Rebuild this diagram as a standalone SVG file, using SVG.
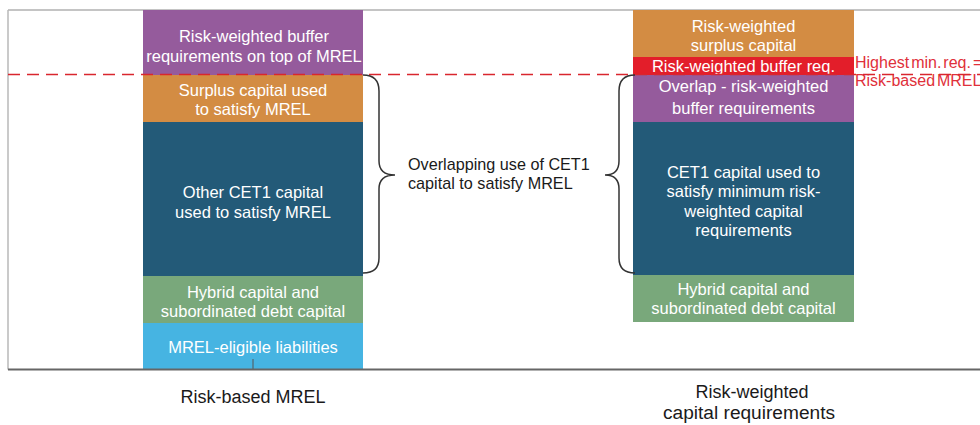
<svg xmlns="http://www.w3.org/2000/svg" width="980" height="425" viewBox="0 0 980 425">
<style>
  text { font-family: "Liberation Sans", Arial, sans-serif; font-size: 16px; }
  .w { fill: #ffffff; text-anchor: middle; font-size: 16.5px; }
  .k { fill: #1a1a1a; font-size: 16.2px; }
  .lbl { fill: #1a1a1a; text-anchor: middle; font-size: 18px; }
  .red { fill: #e0303a; word-spacing: -2.5px; }
  .purple { fill: #955b9c; }
  .orange { fill: #d38c43; }
  .redbox { fill: #e31e2a; }
  .navy { fill: #235a78; }
  .green { fill: #79a87b; }
  .lblue { fill: #46b4e2; }
  .brace { fill: none; stroke: #333333; stroke-width: 1.5; }
</style>
<rect width="980" height="425" fill="#ffffff"/>
<g id="frame">
  <line x1="8" y1="10" x2="980" y2="10" stroke="#b0b0b0" stroke-width="1.5"/>
  <line x1="8" y1="10" x2="8" y2="369.5" stroke="#b8b8b8" stroke-width="1.5"/>
</g>
<g id="left-buffer">
  <rect class="purple" x="143" y="10" width="220" height="65"/>
  <text class="w" x="254" y="42">Risk-weighted buffer</text>
  <text class="w" x="254" y="62">requirements on top of MREL</text>
</g>
<g id="left-surplus">
  <rect class="orange" x="143" y="75" width="220" height="47"/>
  <text class="w" x="253" y="96">Surplus capital used</text>
  <text class="w" x="253" y="115">to satisfy MREL</text>
</g>
<g id="left-cet1">
  <rect class="navy" x="143" y="122" width="220" height="154"/>
  <text class="w" x="253" y="198">Other CET1 capital</text>
  <text class="w" x="253" y="218">used to satisfy MREL</text>
</g>
<g id="left-hybrid">
  <rect class="green" x="143" y="276" width="220" height="47"/>
  <text class="w" x="253" y="298">Hybrid capital and</text>
  <text class="w" x="253" y="317">subordinated debt capital</text>
</g>
<g id="left-liabilities">
  <rect class="lblue" x="143" y="323" width="220" height="46"/>
  <text class="w" x="253" y="353">MREL-eligible liabilities</text>
  <line x1="253" y1="359" x2="253" y2="369" stroke="#555555" stroke-width="1"/>
</g>
<g id="right-surplus">
  <rect class="orange" x="633" y="10" width="221" height="47"/>
  <text class="w" x="743.5" y="32">Risk-weighted</text>
  <text class="w" x="743.5" y="51">surplus capital</text>
</g>
<g id="right-buffer">
  <rect class="redbox" x="633" y="57" width="221" height="18"/>
  <text class="w" x="743.5" y="72">Risk-weighted buffer req.</text>
</g>
<g id="right-overlap">
  <rect class="purple" x="633" y="75" width="221" height="47"/>
  <text class="w" x="743.5" y="92">Overlap - risk-weighted</text>
  <text class="w" x="743.5" y="114">buffer requirements</text>
</g>
<g id="right-cet1">
  <rect class="navy" x="633" y="122" width="221" height="153"/>
  <text class="w" x="743.5" y="178">CET1 capital used to</text>
  <text class="w" x="743.5" y="197">satisfy minimum risk-</text>
  <text class="w" x="743.5" y="217">weighted capital</text>
  <text class="w" x="743.5" y="236">requirements</text>
</g>
<g id="right-hybrid">
  <rect class="green" x="633" y="275" width="221" height="47"/>
  <text class="w" x="743.5" y="295">Hybrid capital and</text>
  <text class="w" x="743.5" y="314">subordinated debt capital</text>
</g>
<g id="overlap-label">
  <text class="k" x="408" y="170">Overlapping use of CET1</text>
  <text class="k" x="408" y="189">capital to satisfy MREL</text>
</g>
<g id="threshold-label">
  <text class="red" x="855" y="68">Highest min. req. =</text>
  <text class="red" x="855" y="86">Risk-based MREL</text>
</g>
<g id="axis-labels">
  <text class="lbl" x="253" y="403">Risk-based MREL</text>
  <text class="lbl" x="752" y="398">Risk-weighted</text>
  <text class="lbl" x="749" y="419" textLength="172" lengthAdjust="spacingAndGlyphs">capital requirements</text>
</g>
<g id="connectors">
  <line x1="8" y1="74.5" x2="980" y2="74.5" stroke="#d9262e" stroke-width="1.5" stroke-dasharray="12 7"/>
  <path class="brace" d="M363,75 Q379,75 379,91 L379,161 Q379,175 395,175 Q379,175 379,189 L379,258 Q379,273 363,273"/>
  <path class="brace" d="M635,75 Q619,75 619,91 L619,161 Q619,175 605,175 Q619,175 619,189 L619,258 Q619,273 635,273"/>
  <line x1="8" y1="369.5" x2="980" y2="369.5" stroke="#666666" stroke-width="2"/>
</g>
</svg>
